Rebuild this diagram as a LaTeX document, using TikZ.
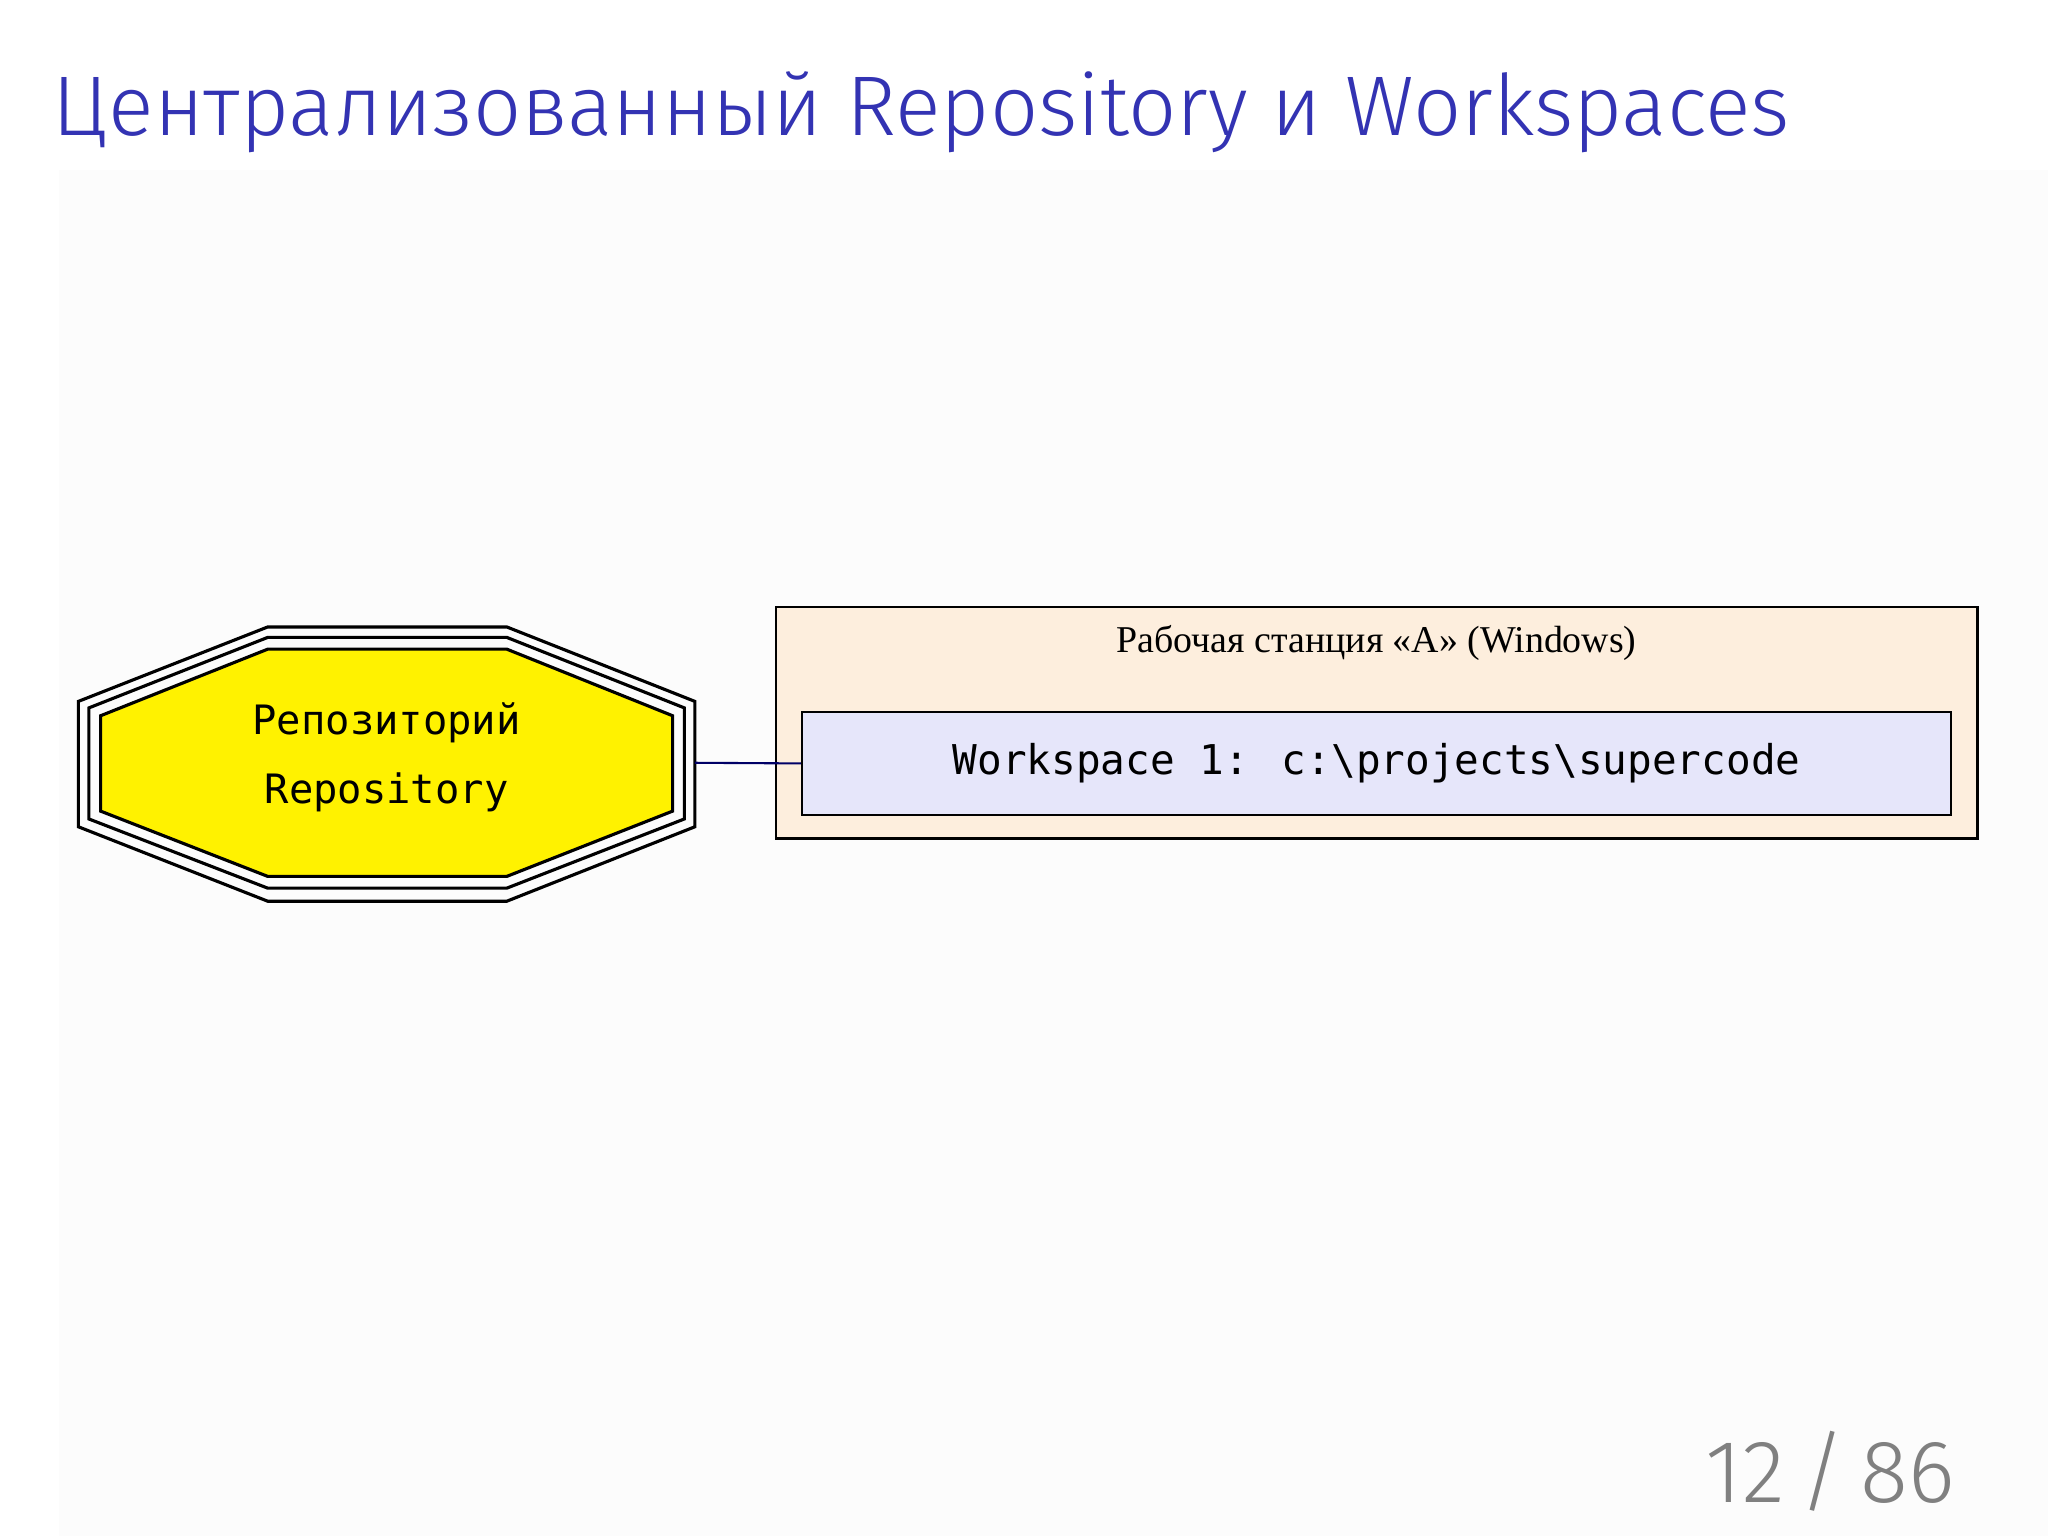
\documentclass[tikz,border=0pt]{standalone}
\usepackage{fontspec}
\setmainfont{Liberation Serif}
\newfontfamily\titlefont{Fira Sans Light}
\newfontfamily\monofnt{DejaVu Sans Mono}
\definecolor{titleblue}{HTML}{3333B3}
\definecolor{clusterfill}{HTML}{FDEEDD}
\definecolor{wsfill}{HTML}{E6E6FA}
\tikzset{
  px/.style={x=0.5pt,y=-0.5pt},
  octline/.style={draw=black,line width=1.2pt},
  edgeline/.style={draw=blue!40!black,line width=0.8pt},
}
\begin{document}
\begin{tikzpicture}[px]
\useasboundingbox (0,0) rectangle (1568,1176);
\fill[white] (0,0) rectangle (1568,1176);
\fill[black!1] (45,130) rectangle (1568,1176);
% title
\node[anchor=base west,inner sep=0,text=titleblue] (title) at (40,104)
  {\resizebox{665pt}{!}{\titlefont Централизованный Repository и Workspaces}};
% octagon repository
\draw[octline] (60,537)--(205,480)--(388,480)--(532,537)--(532,633)--(388,690)--(205,690)--(60,633)--cycle;
\draw[octline] (68,542)--(205,488)--(388,488)--(524,542)--(524,627)--(388,680)--(205,680)--(68,627)--cycle;
\draw[octline,fill=yellow] (77,548)--(205,497)--(388,497)--(515,548)--(515,621)--(388,671)--(205,671)--(77,621)--cycle;
\node[inner sep=0,align=center,font=\monofnt\fontsize{15.5}{26.5}\selectfont] (repo) at (296,580) {Репозиторий\\Repository};
\coordinate (repoE) at (532,584);
% cluster
\draw[black,line width=0.8pt,fill=clusterfill] (594,465) rectangle (1514,642);
\node[inner sep=0,font=\fontsize{14.5}{16}\selectfont] (clabel) at (1054,492) {Рабочая станция «A» (Windows)};
\node[draw=black,line width=0.8pt,fill=wsfill,minimum width=440pt,minimum height=39.5pt,inner sep=0,font=\monofnt\fontsize{15.7}{18}\selectfont] (ws) at (1054,584.5) {Workspace 1: c:\textbackslash projects\textbackslash supercode};
\draw[edgeline] (repoE) -- (ws.west);
% page number
\node[anchor=base east,inner sep=0,text=black!50,font=\titlefont\fontsize{34}{36}\selectfont] (page) at (1497,1150) {12\,/\,86};
\end{tikzpicture}
\end{document}
